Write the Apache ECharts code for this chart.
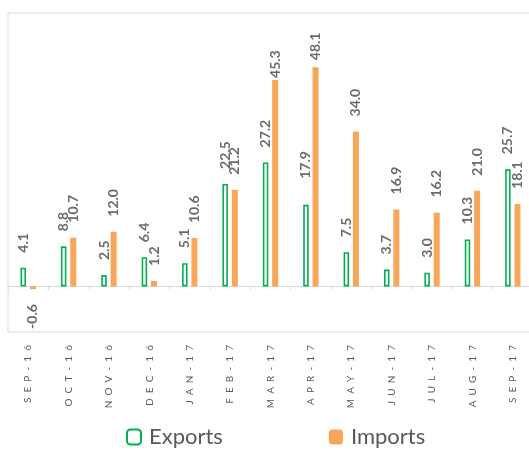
<!DOCTYPE html>
<html>
<head>
<meta charset="utf-8">
<script src="https://cdn.jsdelivr.net/npm/echarts@6/dist/echarts.min.js"></script>
<style>
  html, body { margin: 0; padding: 0; background: #fff; }
  #chart { width: 529px; height: 450px; }
</style>
</head>
<body>
<div id="chart"></div>
<script>
// Monthly growth, Sep-16 to Sep-17
const months = ['SEP-16', 'OCT-16', 'NOV-16', 'DEC-16', 'JAN-17', 'FEB-17', 'MAR-17',
                'APR-17', 'MAY-17', 'JUN-17', 'JUL-17', 'AUG-17', 'SEP-17'];
const exportsGrowth = [4.1, 8.8, 2.5, 6.4, 5.1, 22.5, 27.2, 17.9, 7.5, 3.7, 3.0, 10.3, 25.7];
const importsGrowth = [-0.6, 10.7, 12.0, 1.2, 10.6, 21.2, 45.3, 48.1, 34.0, 16.9, 16.2, 21.0, 18.1];

const FONT = 'Lato, "Open Sans", sans-serif';
const LABEL_GAP = 15;
// a few value labels sit at a custom distance from their bar
const exportLabelGap = { 7: 26 };
const importLabelGap = { 6: 2, 7: 7 };

const valueLabel = {
  show: true,
  position: 'top',
  rotate: 90,
  align: 'left',
  verticalAlign: 'middle',
  distance: LABEL_GAP,
  fontFamily: FONT,
  fontSize: 14,
  fontWeight: 'bold',
  color: '#6b6b6b',
  formatter: p => p.value.toFixed(1)
};

function barData(values, gaps) {
  return values.map((v, i) => {
    const item = { value: v };
    if (v < 0) {
      item.label = { position: 'bottom', align: 'right', distance: LABEL_GAP };
    } else if (gaps[i] !== undefined) {
      item.label = { distance: gaps[i] };
    }
    return item;
  });
}

const chart = echarts.init(document.getElementById('chart'), null, { renderer: 'canvas' });
chart.setOption({
  animation: false,
  backgroundColor: '#fff',
  grid: {
    show: true,
    left: 8, top: 13, right: -4, bottom: 118,
    outerBoundsMode: 'none',
    borderColor: '#d9d9d9', borderWidth: 1,
    containLabel: false
  },
  legend: {
    bottom: -3,
    left: 121,
    itemWidth: 14,
    itemHeight: 15,
    itemGap: 106,
    textStyle: { fontFamily: FONT, fontSize: 22, color: '#595959', padding: [0, 0, 0, 3] },
    data: ['Exports', 'Imports']
  },
  xAxis: {
    type: 'category',
    data: months,
    axisLine: { onZero: true, lineStyle: { color: '#d9d9d9', width: 1 } },
    axisTick: { show: true, length: 3, lineStyle: { color: '#d9d9d9' } },
    axisLabel: {
      rotate: 90,
      margin: 13,
      interval: 0,
      fontFamily: FONT,
      fontSize: 10,
      color: '#595959',
      formatter: s => s.split('').join('  ')
    },
    splitLine: { show: false }
  },
  yAxis: {
    type: 'value',
    min: -10,
    max: 60,
    show: false,
    splitLine: { show: false }
  },
  series: [
    {
      name: 'Exports',
      type: 'bar',
      barWidth: 5.5,
      barGap: '70%',
      itemStyle: { color: '#ffffff', borderColor: '#00b050', borderWidth: 1.6 },
      label: valueLabel,
      data: barData(exportsGrowth, exportLabelGap)
    },
    {
      name: 'Imports',
      type: 'bar',
      barWidth: 6,
      itemStyle: { color: '#f9a65a' },
      label: valueLabel,
      data: barData(importsGrowth, importLabelGap)
    }
  ]
});
</script>
</body>
</html>
